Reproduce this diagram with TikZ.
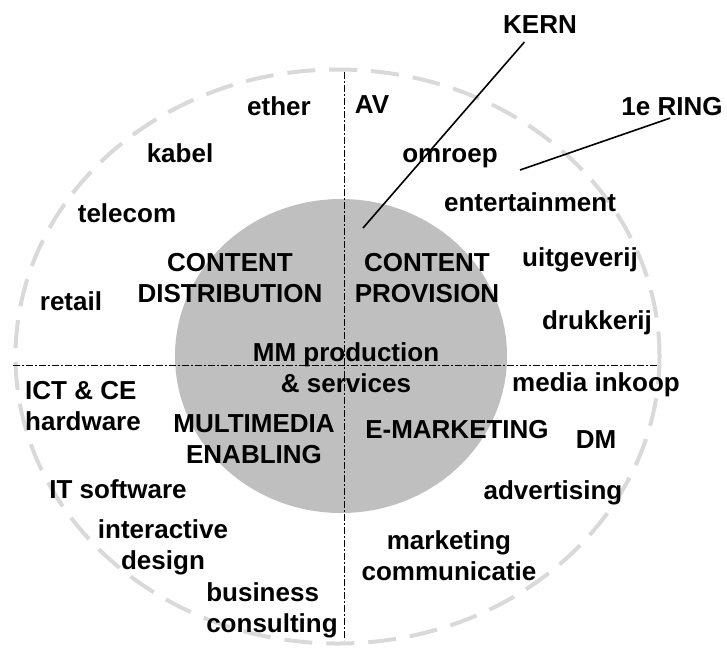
\documentclass[tikz,border=0pt]{standalone}
\usepackage{fontspec}
\setmainfont{Liberation Sans}
\usetikzlibrary{shapes,positioning,calc}

\begin{document}
\begin{tikzpicture}[x=1pt, y=-1pt,
  lbl/.style={font=\bfseries\fontsize{26}{31}\selectfont, anchor=base,
              inner sep=2pt},
  mlbl/.style={lbl, align=center},
  llbl/.style={lbl, align=left},
  ringline/.style={draw=black!15, line width=4pt,
                   dash pattern=on 28pt off 14pt},
  core/.style={fill=gray!50, draw=none},
  axis/.style={line width=0.9pt, dash pattern=on 7pt off 2pt on 2pt off 2pt},
  pointer/.style={line width=1.6pt}
]
\useasboundingbox (0,0) rectangle (727,649);

% kern en ring
\fill[core] (341,356) ellipse [x radius=166, y radius=157];
\draw[ringline] (337.5,356.5) ellipse [x radius=322, y radius=287];

% kwadranten
\coordinate (vtop) at (344,72);
\coordinate (vbot) at (344,640);
\coordinate (hleft) at (13,365);
\coordinate (hright) at (658,365);
\draw[axis] (vtop) -- (vbot);
\draw[axis] (hleft) -- (hright);

\node[lbl]  (kern)    at (540,33)  {KERN};
\node[lbl]  (ring1)   at (672,115) {1e RING};
\node[lbl]  (ether)   at (279,115) {ether};
\node[lbl]  (av)      at (372,113) {AV};
\node[lbl]  (kabel)   at (180,162) {kabel};
\node[lbl]  (omroep)  at (450,162) {omroep};
\node[lbl]  (telecom) at (127,222) {telecom};
\node[lbl]  (ent)     at (530,211) {entertainment};
\node[mlbl] (cdist)   at (230,302) {CONTENT\\DISTRIBUTION};
\node[mlbl] (cprov)   at (427,302) {CONTENT\\PROVISION};
\node[lbl]  (uitg)    at (580,266) {uitgeverij};
\node[lbl]  (retail)  at (71,310)  {retail};
\node[lbl]  (druk)    at (597,329) {drukkerij};
\node[mlbl] (mmprod)  at (346,392) {MM production\\\& services};
\node[lbl]  (inkoop)  at (596,391) {media inkoop};
\node[llbl] (ict)     at (83,430)  {ICT \& CE\\hardware};
\node[mlbl] (mmen)    at (254,463) {MULTIMEDIA\\ENABLING};
\node[lbl]  (emark)   at (457,438) {E-MARKETING};
\node[lbl]  (dm)      at (596,448) {DM};
\node[lbl]  (itsoft)  at (118,498) {IT software};
\node[lbl]  (adv)     at (553,499) {advertising};
\node[mlbl] (idesign) at (163,569) {interactive\\design};
\node[mlbl] (mcomm)   at (449,580) {marketing\\communicatie};
\node[llbl] (bcons)   at (272,632) {business\\consulting};

% wijzers
\coordinate (kerntip) at (363,228);
\coordinate (ringtip) at (520,170);
\draw[pointer, shorten <=9pt] (kern) -- (kerntip);
\draw[pointer, shorten <=2pt] (ring1.south) -- (ringtip);
\end{tikzpicture}
\end{document}
